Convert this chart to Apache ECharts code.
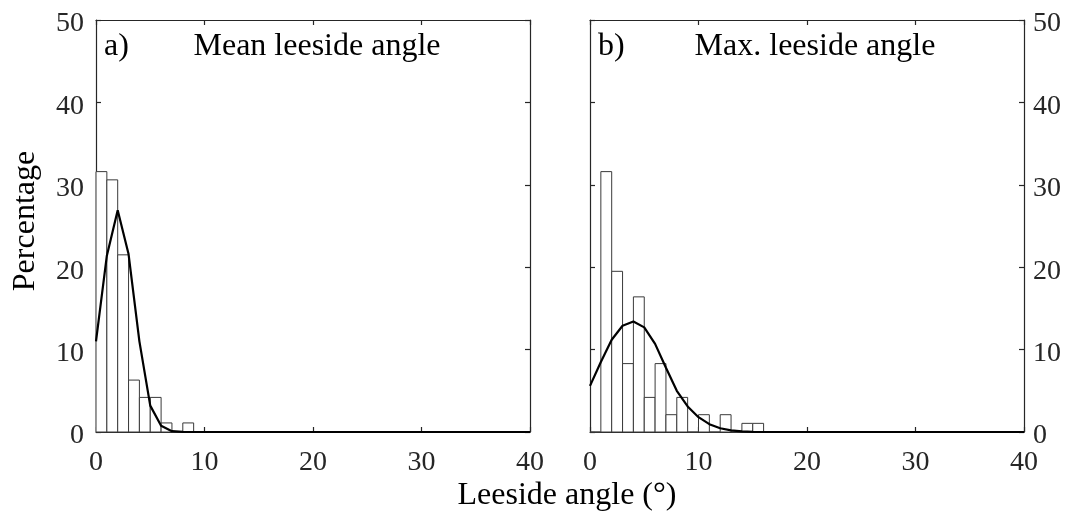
<!DOCTYPE html>
<html>
<head>
<meta charset="utf-8">
<script src="https://cdn.jsdelivr.net/npm/echarts@6/dist/echarts.min.js"></script>
<style>
html,body{margin:0;padding:0;background:#fff;}
#chart{width:1073px;height:520px;}
</style>
</head>
<body>
<div id="chart"></div>
<script>
// ---- data ----
var binWidth = 1;
// histogram percentages per 1-degree bin starting at 0
var meanPct = [31.6, 30.6, 21.5, 6.3, 4.2, 4.2, 1.1, 0, 1.1];
var maxPct  = [0, 31.6, 19.5, 8.3, 16.4, 4.2, 8.3, 2.1, 4.2, 0, 2.1, 0, 2.1, 0, 1.05, 1.05];
// fitted normal curve sampled at integer angles 0..40
var fitX = [0,1,2,3,4,5,6,7,8,9,10,11,12,13,14,15,16,17,18,19,20,21,22,23,24,25,26,27,28,29,30,31,32,33,34,35,36,37,38,39,40];
var meanFit = [11.0, 21.4, 26.9, 21.6, 11.0, 3.2, 0.75, 0.1, 0.01, 0,0,0,0,0,0,0,0,0,0,0,0,0,0,0,0,0,0,0,0,0,0,0,0,0,0,0,0,0,0,0,0];
var maxFit  = [5.6, 8.5, 11.2, 12.9, 13.4, 12.7, 10.7, 7.8, 5.0, 3.1, 1.8, 0.95, 0.45, 0.2, 0.07, 0.02, 0,0,0,0,0,0,0,0,0,0,0,0,0,0,0,0,0,0,0,0,0,0,0,0,0];
var xTicks = [0, 10, 20, 30, 40];
var yTicks = [0, 10, 20, 30, 40, 50];
var panelTags = ['a)', 'b)'];
var panelTitles = ['Mean leeside angle', 'Max. leeside angle'];
var xLabel = 'Leeside angle (°)';
var yLabel = 'Percentage';

// ---- build ----
var ink = '#262626';
var serif = '"Liberation Serif", "DejaVu Serif", serif';
function bars(arr){ return arr.map(function(v,i){ return [i*binWidth, (i+1)*binWidth, v]; }); }
function pts(ys){ return fitX.map(function(x,i){ return [x, ys[i]]; }); }

var grids = [
  {left: 96, top: 20, width: 434, height: 412},
  {left: 590, top: 20, width: 434, height: 412}
];
var yLabelRich = {
  formatter: function(v){ return '{d|' + v + '}'; },
  rich: {d: {padding:[8,0,0,0], color:ink, fontFamily:serif, fontSize:28}}
};
var xAxes = [], yAxes = [], series = [];
[0,1].forEach(function(g){
  var base = {type:'value', min:xTicks[0], max:xTicks[xTicks.length-1], interval:10, gridIndex:g,
    splitLine:{show:false},
    axisLine:{show:true, onZero:false, lineStyle:{color:ink, width:1.2}},
    axisTick:{show:true, inside:true, length:5, lineStyle:{color:ink, width:1.2}}};
  xAxes.push(Object.assign({}, base, {position:'bottom',
    axisLabel:{show:true, margin:17, color:ink, fontFamily:serif, fontSize:28}}));
  xAxes.push(Object.assign({}, base, {position:'top', axisLabel:{show:false}}));
  var ybase = {type:'value', min:yTicks[0], max:yTicks[yTicks.length-1], interval:10, gridIndex:g,
    splitLine:{show:false},
    axisLine:{show:true, onZero:false, lineStyle:{color:ink, width:1.2}},
    axisTick:{show:true, inside:true, length:5, lineStyle:{color:ink, width:1.2}}};
  yAxes.push(Object.assign({}, ybase, {position:'left',
    axisLabel:Object.assign({show:g===0, margin:12, color:ink, fontFamily:serif, fontSize:28}, yLabelRich)}));
  yAxes.push(Object.assign({}, ybase, {position:'right',
    axisLabel:Object.assign({show:g===1, margin:9, color:ink, fontFamily:serif, fontSize:28}, yLabelRich)}));
});

function histSeries(arr, g){
  return {type:'custom', xAxisIndex:g*2, yAxisIndex:g*2, data:bars(arr), encode:{x:[0,1], y:2},
    renderItem:function(params, api){
      var p0 = api.coord([api.value(0), api.value(2)]);
      var p1 = api.coord([api.value(1), 0]);
      return {type:'rect', shape:{x:p0[0], y:p0[1], width:p1[0]-p0[0], height:p1[1]-p0[1]},
        style:{fill:'#ffffff', stroke:'#3a3a3a', lineWidth:1}};
    }, z:2};
}
function fitSeries(ys, g){
  return {type:'line', xAxisIndex:g*2, yAxisIndex:g*2, data:pts(ys), showSymbol:false, symbol:'none',
    lineStyle:{color:'#000', width:2.2}, z:3, animation:false};
}
series.push(histSeries(meanPct,0), fitSeries(meanFit,0), histSeries(maxPct,1), fitSeries(maxFit,1));

var txt = function(x,y,t,opts){
  return Object.assign({type:'text', x:x, y:y, style:Object.assign({text:t, fill:'#000', font:'32px ' + serif, textAlign:'left', textVerticalAlign:'middle'}, opts||{}), z:10});
};
var graphics = [
  txt(104, 47, panelTags[0]),
  txt(317, 47, panelTitles[0], {textAlign:'center'}),
  txt(598, 47, panelTags[1]),
  txt(815, 47, panelTitles[1], {textAlign:'center'}),
  txt(567, 496, xLabel, {textAlign:'center'}),
  {type:'text', x:26, y:221, rotation:Math.PI/2, style:{text:yLabel, fill:'#000', font:'32px ' + serif, textAlign:'center', textVerticalAlign:'middle'}, z:10}
];

var chart = echarts.init(document.getElementById('chart'), null, {renderer:'canvas'});
chart.setOption({
  animation:false,
  backgroundColor:'#fff',
  grid:grids,
  xAxis:xAxes,
  yAxis:yAxes,
  series:series,
  graphic:graphics
});
</script>
</body>
</html>
